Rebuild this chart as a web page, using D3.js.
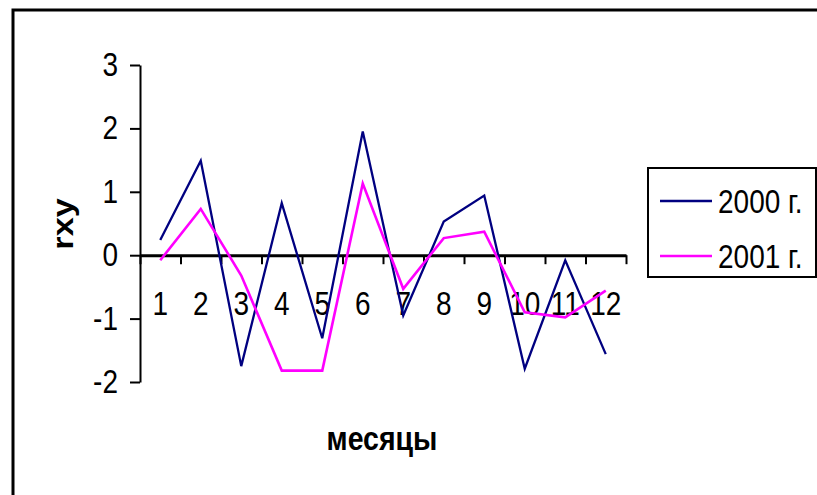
<!DOCTYPE html>
<html>
<head>
<meta charset="utf-8">
<script src="https://cdn.jsdelivr.net/npm/d3@7/dist/d3.min.js"></script>
<style>
  html, body { margin: 0; padding: 0; background: #fff; }
  svg { display: block; font-family: "Liberation Sans", Arial, sans-serif; }
</style>
</head>
<body>
<svg id="chart" width="817" height="495"></svg>
<script>
// Monthly rxy values for two years
const months = ["1","2","3","4","5","6","7","8","9","10","11","12"];
const series2000 = [0.24, 1.49, -1.75, 0.82, -1.31, 1.95, -0.95, 0.53, 0.94, -1.79, -0.08, -1.56];
const series2001 = [-0.08, 0.73, -0.32, -1.82, -1.82, 1.13, -0.53, 0.27, 0.37, -0.90, -0.98, -0.56];
const yTicks = [-2, -1, 0, 1, 2, 3];
const seriesNames = ["2000 г.", "2001 г."];
const seriesColors = ["#000080", "#FF00FF"];

const svg = d3.select("#chart");
const STRETCH = 1.18; // glyphs are drawn slightly taller than wide

// outer frame
svg.append("rect")
  .attr("x", 13).attr("y", 10)
  .attr("width", 830).attr("height", 520)
  .attr("fill", "none").attr("stroke", "#000").attr("stroke-width", 3);

const plot = { left: 140, right: 626, top: 65, bottom: 382 };

const x = d3.scaleBand().domain(months).range([plot.left, plot.right]).padding(0);
const xEdge = d3.scaleLinear().domain([0, months.length]).range([plot.left, plot.right]);
const y = d3.scaleLinear().domain([-2, 3]).range([plot.bottom, plot.top]);

function label(g, text, px, py, opts = {}) {
  return g.append("text")
    .attr("transform", `translate(${px},${py}) scale(1,${STRETCH})` + (opts.rotate ? ` rotate(${opts.rotate})` : ""))
    .attr("text-anchor", opts.anchor || "middle")
    .attr("font-size", opts.size || 28)
    .attr("font-weight", opts.bold ? "bold" : "normal")
    .attr("fill", "#000")
    .text(text);
}

// y axis
const yAxis = svg.append("g")
  .attr("transform", `translate(${plot.left},0)`)
  .call(d3.axisLeft(y).tickValues(yTicks).tickSize(10).tickSizeOuter(0).tickFormat(""));
yAxis.select(".domain").attr("stroke", "#000").attr("stroke-width", 2);
yAxis.selectAll(".tick line").attr("stroke", "#000").attr("stroke-width", 2);

yTicks.forEach(v => label(svg, String(v), 118, y(v) + 11, { anchor: "end" }));

// x axis along zero, ticks between categories
const xAxis = svg.append("g")
  .attr("transform", `translate(0,${y(0)})`)
  .call(d3.axisBottom(xEdge).tickValues(d3.range(months.length + 1)).tickSize(9).tickSizeOuter(0).tickFormat(""));
xAxis.select(".domain").attr("stroke", "#000").attr("stroke-width", 3);
xAxis.selectAll(".tick line").attr("stroke", "#000").attr("stroke-width", 2);

months.forEach(m => label(svg, m, x(m) + x.bandwidth() / 2, 315));

// axis titles
label(svg, "месяцы", 382, 450, { bold: true, size: 28.5 });
label(svg, "rxy", 73, 224, { bold: true, size: 29, rotate: -90 });

// series lines
const line = d3.line()
  .x((d, i) => x(months[i]) + x.bandwidth() / 2)
  .y(d => y(d));

[series2000, series2001].forEach((s, i) => {
  svg.append("path")
    .datum(s)
    .attr("d", line)
    .attr("fill", "none")
    .attr("stroke", seriesColors[i])
    .attr("stroke-width", i === 0 ? 2.3 : 2.6)
    .attr("stroke-linejoin", "miter");
});

// legend
const legend = svg.append("g");
legend.append("rect")
  .attr("x", 648).attr("y", 168)
  .attr("width", 168).attr("height", 109)
  .attr("fill", "#fff").attr("stroke", "#000").attr("stroke-width", 2);
const legendRows = [201, 256];
seriesNames.forEach((name, i) => {
  legend.append("line")
    .attr("x1", 660).attr("x2", 712)
    .attr("y1", legendRows[i]).attr("y2", legendRows[i])
    .attr("stroke", seriesColors[i]).attr("stroke-width", i === 0 ? 2.3 : 2.6);
  label(legend, name, 718, legendRows[i] + 12, { anchor: "start" });
});
</script>
</body>
</html>
